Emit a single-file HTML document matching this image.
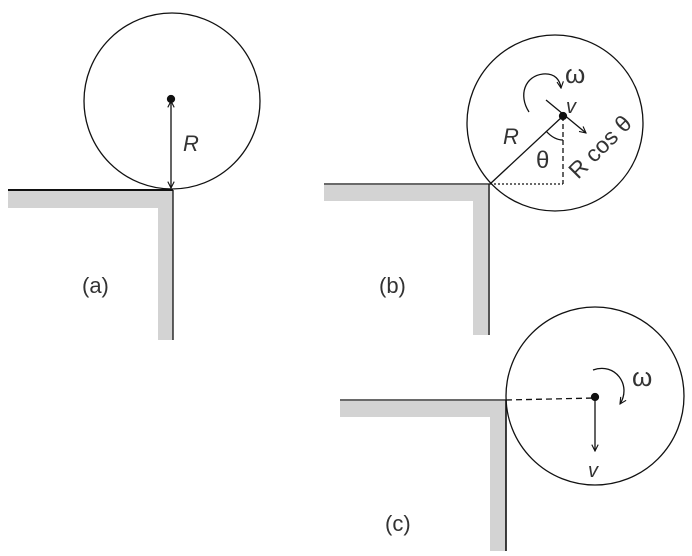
<!DOCTYPE html>
<html><head><style>body{margin:0;background:#fff}svg{display:block}text{font-family:"Liberation Sans","DejaVu Sans",sans-serif;fill:#333}</style></head>
<body>
<svg width="692" height="556" viewBox="0 0 692 556" xmlns="http://www.w3.org/2000/svg">
<defs>
<marker id="ah" viewBox="0 0 10 10" refX="9" refY="5" markerWidth="8" markerHeight="8" orient="auto-start-reverse" markerUnits="userSpaceOnUse"><path d="M1,1 L9,5 L1,9" fill="none" stroke="#111" stroke-width="1.4"/></marker>
</defs>
<g stroke="#111" fill="none" stroke-width="1.3">
<rect x="8" y="191" width="165" height="17" fill="#d3d3d3" stroke="none"/>
<rect x="158" y="191" width="15" height="149" fill="#d3d3d3" stroke="none"/>
<line x1="8" y1="190" x2="173" y2="190" stroke-width="2"/>
<line x1="173" y1="190" x2="173" y2="340"/>
<circle cx="172" cy="101" r="88"/>
<circle cx="171" cy="99" r="3.5" fill="#111"/>
<line x1="171" y1="101" x2="171" y2="188" marker-start="url(#ah)" marker-end="url(#ah)"/>
<rect x="324" y="185" width="166" height="16" fill="#d3d3d3" stroke="none"/>
<rect x="473" y="185" width="17" height="150" fill="#d3d3d3" stroke="none"/>
<line x1="324" y1="184" x2="490" y2="184"/>
<line x1="489" y1="184" x2="489" y2="335"/>
<circle cx="555" cy="123" r="88"/>
<circle cx="563" cy="116" r="3.5" fill="#111"/>
<line x1="490" y1="184" x2="563" y2="116"/>
<line x1="563" y1="116" x2="563" y2="184" stroke-dasharray="5,3"/>
<line x1="490" y1="184" x2="563" y2="184" stroke-dasharray="2,2"/>
<line x1="546" y1="100" x2="586" y2="133" marker-end="url(#ah)"/>
<path d="M546,131 Q554,140 563,140"/>
<path d="M529,112 C518,95 525,76 543,74 C555,73 560,80 561,88" marker-end="url(#ah)"/>
<rect x="340" y="401" width="166" height="16" fill="#d3d3d3" stroke="none"/>
<rect x="490" y="401" width="16" height="150" fill="#d3d3d3" stroke="none"/>
<line x1="340" y1="400" x2="506" y2="400"/>
<line x1="506" y1="400" x2="506" y2="551" stroke-width="1.6"/>
<circle cx="595" cy="396" r="89"/>
<circle cx="595" cy="397" r="3.5" fill="#111"/>
<line x1="506" y1="400" x2="595" y2="398" stroke-dasharray="6,4"/>
<line x1="595" y1="398" x2="595" y2="451" marker-end="url(#ah)"/>
<path d="M593,370 C615,362 632,385 620,404" marker-end="url(#ah)"/>
</g>
<text x="183" y="151" font-size="22" font-style="italic">R</text>
<text x="82" y="293" font-size="22">(a)</text>
<text x="379" y="293" font-size="22">(b)</text>
<text x="503" y="144" font-size="22" font-style="italic">R</text>
<text x="566" y="113" font-size="20" font-style="italic">v</text>
<text x="536" y="168" font-size="24">θ</text>
<text x="565" y="83" font-size="26">ω</text>
<text x="0" y="0" font-size="23" transform="translate(578,180) rotate(-45)">R cos θ</text>
<text x="385" y="531" font-size="22">(c)</text>
<text x="588" y="477" font-size="20" font-style="italic">v</text>
<text x="632" y="386" font-size="26">ω</text>
</svg>
</body></html>
